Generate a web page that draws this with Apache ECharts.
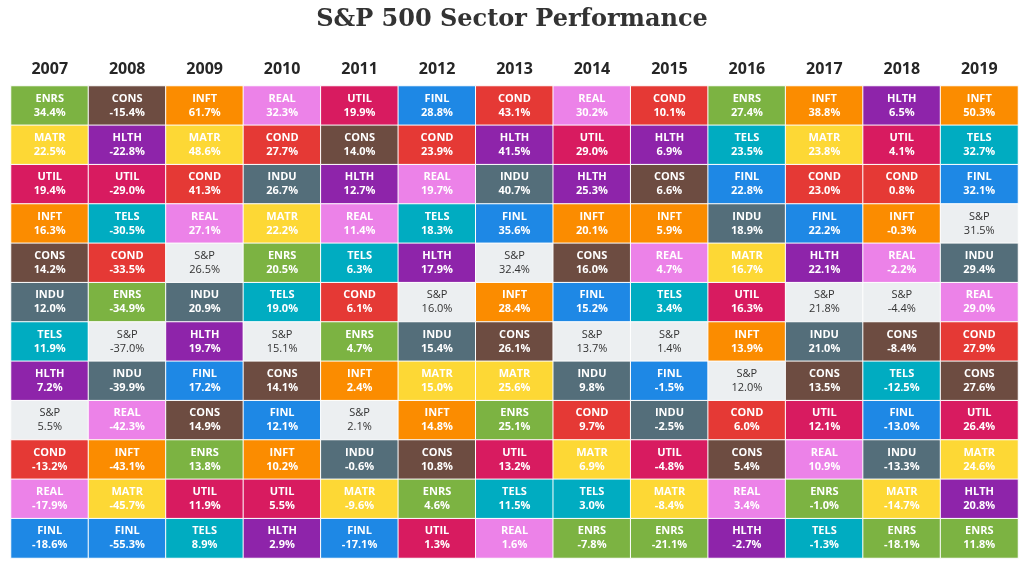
<html>
<head>
    <title>S&P 500 Sector Performance</title>
    <meta http-equiv="Content-Type" content="text/html; charset=utf-8" />
    <style>html,body{margin:0;padding:0;background:#fff;}</style>
</head>
<body>
<div id="chart" style="width: 1024px;height: 565px"></div>
</body>
<script type="text/javascript" src="https://cdn.jsdelivr.net/npm/echarts@6/dist/echarts.min.js"></script>
<script type="text/javascript">
// years (columns)
var years = ['2007','2008','2009','2010','2011','2012','2013','2014','2015','2016','2017','2018','2019'];

// sectors ranked best -> worst for each year
var ranks = [
    ['ENRS','MATR','UTIL','INFT','CONS','INDU','TELS','HLTH','S&P','COND','REAL','FINL'],
    ['CONS','HLTH','UTIL','TELS','COND','ENRS','S&P','INDU','REAL','INFT','MATR','FINL'],
    ['INFT','MATR','COND','REAL','S&P','INDU','HLTH','FINL','CONS','ENRS','UTIL','TELS'],
    ['REAL','COND','INDU','MATR','ENRS','TELS','S&P','CONS','FINL','INFT','UTIL','HLTH'],
    ['UTIL','CONS','HLTH','REAL','TELS','COND','ENRS','INFT','S&P','INDU','MATR','FINL'],
    ['FINL','COND','REAL','TELS','HLTH','S&P','INDU','MATR','INFT','CONS','ENRS','UTIL'],
    ['COND','HLTH','INDU','FINL','S&P','INFT','CONS','MATR','ENRS','UTIL','TELS','REAL'],
    ['REAL','UTIL','HLTH','INFT','CONS','FINL','S&P','INDU','COND','MATR','TELS','ENRS'],
    ['COND','HLTH','CONS','INFT','REAL','TELS','S&P','FINL','INDU','UTIL','MATR','ENRS'],
    ['ENRS','TELS','FINL','INDU','MATR','UTIL','INFT','S&P','COND','CONS','REAL','HLTH'],
    ['INFT','MATR','COND','FINL','HLTH','S&P','INDU','CONS','UTIL','REAL','ENRS','TELS'],
    ['HLTH','UTIL','COND','INFT','REAL','S&P','CONS','TELS','FINL','INDU','MATR','ENRS'],
    ['INFT','TELS','FINL','S&P','INDU','REAL','COND','CONS','UTIL','MATR','HLTH','ENRS']
];

// annual return (%) in the same order
var returns = [
    [34.4, 22.5, 19.4, 16.3, 14.2, 12.0, 11.9, 7.2, 5.5, -13.2, -17.9, -18.6],
    [-15.4, -22.8, -29.0, -30.5, -33.5, -34.9, -37.0, -39.9, -42.3, -43.1, -45.7, -55.3],
    [61.7, 48.6, 41.3, 27.1, 26.5, 20.9, 19.7, 17.2, 14.9, 13.8, 11.9, 8.9],
    [32.3, 27.7, 26.7, 22.2, 20.5, 19.0, 15.1, 14.1, 12.1, 10.2, 5.5, 2.9],
    [19.9, 14.0, 12.7, 11.4, 6.3, 6.1, 4.7, 2.4, 2.1, -0.6, -9.6, -17.1],
    [28.8, 23.9, 19.7, 18.3, 17.9, 16.0, 15.4, 15.0, 14.8, 10.8, 4.6, 1.3],
    [43.1, 41.5, 40.7, 35.6, 32.4, 28.4, 26.1, 25.6, 25.1, 13.2, 11.5, 1.6],
    [30.2, 29.0, 25.3, 20.1, 16.0, 15.2, 13.7, 9.8, 9.7, 6.9, 3.0, -7.8],
    [10.1, 6.9, 6.6, 5.9, 4.7, 3.4, 1.4, -1.5, -2.5, -4.8, -8.4, -21.1],
    [27.4, 23.5, 22.8, 18.9, 16.7, 16.3, 13.9, 12.0, 6.0, 5.4, 3.4, -2.7],
    [38.8, 23.8, 23.0, 22.2, 22.1, 21.8, 21.0, 13.5, 12.1, 10.9, -1.0, -1.3],
    [6.5, 4.1, 0.8, -0.3, -2.2, -4.4, -8.4, -12.5, -13.0, -13.3, -14.7, -18.1],
    [50.3, 32.7, 32.1, 31.5, 29.4, 29.0, 27.9, 27.6, 26.4, 24.6, 20.8, 11.8]
];

var sectorColors = {
    'ENRS': '#7cb342',
    'CONS': '#6d4c41',
    'INFT': '#fb8c00',
    'REAL': '#ec82e8',
    'UTIL': '#d81b60',
    'FINL': '#1e88e5',
    'COND': '#e53935',
    'HLTH': '#8e24aa',
    'MATR': '#fdd835',
    'TELS': '#00acc1',
    'INDU': '#546e7a',
    'S&P': '#eceff1'
};

var rowIds = [];
for (var r = 0; r < 12; r++) {
    rowIds.push(r);
}

var cells = [];
for (var i = 0; i < years.length; i++) {
    for (var j = 0; j < ranks[i].length; j++) {
        var code = ranks[i][j];
        cells.push({
            name: code,
            value: [i, j, returns[i][j]],
            itemStyle: {color: sectorColors[code]}
        });
    }
}

var myChart = echarts.init(document.getElementById('chart'));
var option = {
    animation: false,
    title: {
        text: 'S&P 500 Sector Performance',
        left: 'center',
        top: 3,
        textStyle: {
            fontFamily: 'DejaVu Serif',
            fontWeight: 'bold',
            fontSize: 24,
            color: '#333'
        }
    },
    grid: {
        left: 11,
        right: 6,
        top: 86,
        bottom: 7
    },
    xAxis: {
        type: 'category',
        position: 'top',
        data: years,
        axisLine: {show: false},
        axisTick: {show: false},
        splitArea: {show: false},
        axisLabel: {
            margin: 9,
            fontFamily: 'Open Sans',
            fontWeight: 'bold',
            fontSize: 16,
            color: '#262626'
        }
    },
    yAxis: {
        type: 'category',
        inverse: true,
        data: rowIds,
        show: false
    },
    series: [
        {
            type: 'heatmap',
            data: cells,
            itemStyle: {
                borderColor: '#fff',
                borderWidth: 1
            },
            label: {
                show: true,
                formatter: function (p) {
                    var v = p.value[2].toFixed(1) + '%';
                    if (p.name === 'S&P') {
                        return '{sc|S&P}\n{sv|' + v + '}';
                    }
                    return '{c|' + p.name + '}\n{v|' + v + '}';
                },
                rich: {
                    c: {fontFamily: 'Open Sans', fontWeight: 'bold', fontSize: 11, color: '#fff', lineHeight: 14},
                    v: {fontFamily: 'Open Sans', fontWeight: 'bold', fontSize: 11, color: '#fff', lineHeight: 14},
                    sc: {fontFamily: 'Open Sans', fontSize: 11, color: '#333', lineHeight: 14},
                    sv: {fontFamily: 'Open Sans', fontSize: 11, color: '#333', lineHeight: 14}
                }
            },
            emphasis: {disabled: true}
        }
    ]
};
myChart.setOption(option);
</script>
</html>
